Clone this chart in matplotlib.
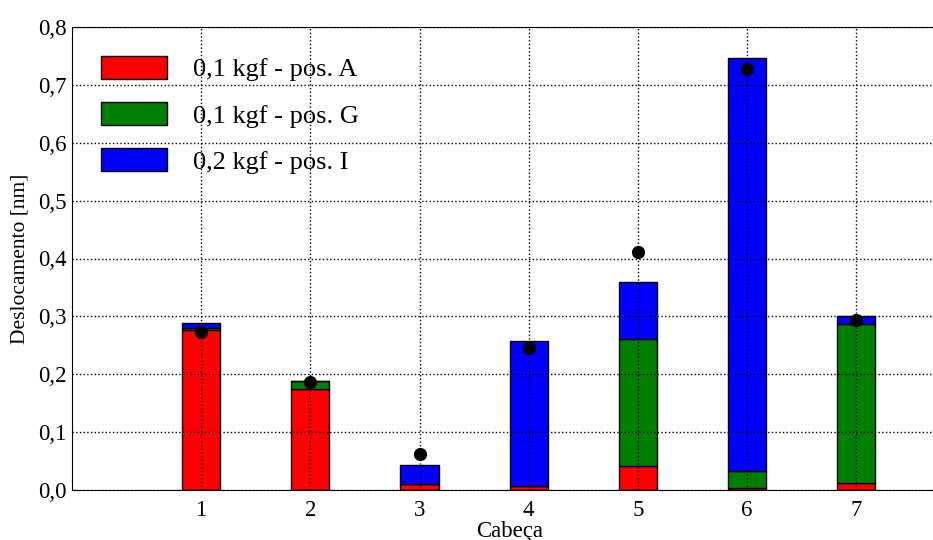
import numpy as np
import matplotlib
matplotlib.use("Agg")
import matplotlib.pyplot as plt
from matplotlib.ticker import FuncFormatter

# data
cabecas = [1, 2, 3, 4, 5, 6, 7]
pos_a = [0.276, 0.174, 0.010, 0.007, 0.041, 0.004, 0.012]
pos_g = [0.004, 0.015, 0.000, 0.000, 0.220, 0.028, 0.275]
pos_i = [0.009, 0.000, 0.034, 0.250, 0.098, 0.714, 0.014]
medido = [0.273, 0.186, 0.063, 0.245, 0.411, 0.727, 0.293]

labels = ["0,1 kgf - pos. A", "0,1 kgf - pos. G", "0,2 kgf - pos. I"]
cores = ["red", "green", "blue"]

plt.rcParams["font.family"] = ["Liberation Serif", "DejaVu Serif"]

fig = plt.figure(figsize=(9.33, 5.4), dpi=100)
ax = fig.add_axes([72 / 933, 50 / 540, 876 / 933, 463 / 540])

x = np.array(cabecas)
w = 0.35
bottom = np.zeros(len(x))
for vals, cor, lab in zip([pos_a, pos_g, pos_i], cores, labels):
    ax.bar(x, vals, w, bottom=bottom, color=cor, edgecolor="black",
           linewidth=1.0, label=lab, zorder=1)
    bottom = bottom + np.array(vals)

ax.plot(x, medido, "o", color="black", markersize=8.5, zorder=4)

ax.set_xlim(-0.183, 7.84)
ax.set_ylim(0, 0.8)
ax.set_xticks(cabecas)
ax.set_yticks(np.arange(0, 0.81, 0.1))
ax.yaxis.set_major_formatter(FuncFormatter(lambda v, p: f"{v:.1f}".replace(".", ",")))
ax.tick_params(length=0, labelsize=16.5)
ax.tick_params(axis="y", pad=4)
ax.tick_params(axis="x", pad=7)
ax.grid(True, linestyle=":", color="black", linewidth=1.0, zorder=3)
ax.set_axisbelow(False)
ax.spines["right"].set_visible(False)

ax.set_xlabel("Cabeça", fontsize=16.5, labelpad=0)
ax.set_ylabel("Deslocamento [nm]", fontsize=15.5, labelpad=6)

ax.legend(loc="upper left", frameon=False, fontsize=19,
          handlelength=2.5, handleheight=0.95, handletextpad=1.0,
          labelspacing=0.78, borderaxespad=0.7)

fig.savefig("out.png", dpi=100)
